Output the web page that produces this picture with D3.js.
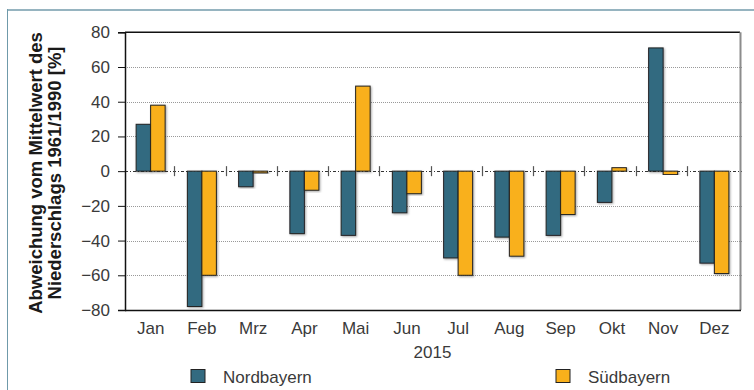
<!DOCTYPE html>
<html>
<head>
<meta charset="utf-8">
<script src="https://cdn.jsdelivr.net/npm/d3@7/dist/d3.min.js"></script>
<style>
  html, body { margin: 0; padding: 0; background: #fff; }
  svg { display: block; }
  text { font-family: "Liberation Sans", Arial, sans-serif; }
</style>
</head>
<body>
<svg id="chart" width="754" height="390"></svg>
<script>
// Monthly precipitation deviation from the 1961/1990 mean, 2015
const months = ["Jan", "Feb", "Mrz", "Apr", "Mai", "Jun", "Jul", "Aug", "Sep", "Okt", "Nov", "Dez"];
const seriesNames = ["Nordbayern", "Südbayern"];
const nordbayern = [27, -78, -9, -36, -37, -24, -50, -38, -37, -18, 71, -53];
const suedbayern = [38, -60, -1, -11, 49, -13, -60, -49, -25, 2, -2, -59];
const yTicks = [-80, -60, -40, -20, 0, 20, 40, 60, 80];
const yearLabel = "2015";
const yTitle = ["Abweichung vom Mittelwert des", "Niederschlags 1961/1990 [%]"];

const colors = ["#336a80", "#f9b01b"];
const rows = months.map((m, i) => ({ month: m, values: [nordbayern[i], suedbayern[i]] }));

const svg = d3.select("#chart");
const plotLeft = 125, plotRight = 740, plotTop = 32.3, plotBottom = 310;

const x = d3.scaleBand().domain(months).range([plotLeft, plotRight]).padding(0);
const xs = d3.scaleBand().domain(seriesNames).range([0, x.bandwidth()]).paddingInner(0).paddingOuter(0.767);
const y = d3.scaleLinear().domain([-80, 80]).range([plotBottom, plotTop]);

const defs = svg.append("defs");
const shadow = defs.append("filter").attr("id", "barShadow")
  .attr("x", "-30%").attr("y", "-10%").attr("width", "160%").attr("height", "120%");
shadow.append("feDropShadow").attr("dx", 1).attr("dy", 1).attr("stdDeviation", 1)
  .attr("flood-color", "#000").attr("flood-opacity", 0.35);

// outer frame (top and left edges)
svg.append("line").attr("x1", 7).attr("x2", 754).attr("y1", 10).attr("y2", 10)
  .attr("stroke", "#96b4c0").attr("stroke-width", 2);
svg.append("line").attr("x1", 7.5).attr("x2", 7.5).attr("y1", 9).attr("y2", 390)
  .attr("stroke", "#6f9aaa").attr("stroke-width", 1);

// gridlines
svg.append("g").selectAll("line")
  .data(yTicks.filter(t => t !== 0 && Math.abs(t) !== 80))
  .join("line")
  .attr("x1", plotLeft).attr("x2", plotRight + 2)
  .attr("y1", d => Math.round(y(d)) + 0.5).attr("y2", d => Math.round(y(d)) + 0.5)
  .attr("stroke", "#999").attr("stroke-width", 1).attr("stroke-dasharray", "1,1");

// zero line
svg.append("line").attr("x1", plotLeft).attr("x2", plotRight + 2)
  .attr("y1", Math.round(y(0)) + 0.5).attr("y2", Math.round(y(0)) + 0.5)
  .attr("stroke", "#333").attr("stroke-width", 1).attr("stroke-dasharray", "3,2,1,2");

// category separators on the zero line
svg.append("g").selectAll("line")
  .data(months.slice(1))
  .join("line")
  .attr("x1", d => Math.round(x(d)) - 1.5).attr("x2", d => Math.round(x(d)) - 1.5)
  .attr("y1", y(0) - 5).attr("y2", y(0) + 5)
  .attr("stroke", "#555").attr("stroke-width", 1.2);

// bars
const groups = svg.append("g").selectAll("g")
  .data(rows).join("g")
  .attr("transform", d => `translate(${x(d.month)},0)`);
groups.selectAll("rect")
  .data(d => d.values.map((v, i) => ({ v, i })))
  .join("rect")
  .attr("x", d => xs(seriesNames[d.i]))
  .attr("width", xs.bandwidth())
  .attr("y", d => y(Math.max(0, d.v)))
  .attr("height", d => Math.abs(y(d.v) - y(0)))
  .attr("fill", d => colors[d.i])
  .attr("stroke", "#222").attr("stroke-width", 1)
  .attr("filter", "url(#barShadow)");

// plot frame
svg.append("line").attr("x1", plotLeft).attr("x2", plotRight).attr("y1", plotTop).attr("y2", plotTop)
  .attr("stroke", "#111").attr("stroke-width", 1.5);
svg.append("line").attr("x1", plotRight + 0.5).attr("x2", plotRight + 0.5).attr("y1", plotTop).attr("y2", plotBottom)
  .attr("stroke", "#8c8c8c").attr("stroke-width", 2);

// y axis
const yAxis = svg.append("g").attr("transform", `translate(${plotLeft},0)`)
  .call(d3.axisLeft(y).tickValues(yTicks).tickSize(7).tickPadding(8).tickFormat(d3.format("d")));
yAxis.select(".domain").attr("stroke", "#111").attr("stroke-width", 1.5);
yAxis.selectAll(".tick line").attr("stroke", "#111");
yAxis.selectAll(".tick text").attr("font-size", 17).attr("fill", "#3a3a3a")
  .attr("font-family", "'Liberation Sans', Arial, sans-serif");

// x axis (labels only)
const xAxis = svg.append("g").attr("transform", `translate(0,${plotBottom})`)
  .call(d3.axisBottom(x).tickSize(0).tickPadding(12));
xAxis.select(".domain").attr("stroke", "#111").attr("stroke-width", 1.5)
  .attr("d", `M${plotLeft},0.5H${plotRight + 1}`);
xAxis.selectAll(".tick text").attr("font-size", 17).attr("fill", "#3a3a3a")
  .attr("font-family", "'Liberation Sans', Arial, sans-serif");

svg.append("text").attr("x", (plotLeft + plotRight) / 2).attr("y", 358)
  .attr("text-anchor", "middle").attr("font-size", 17).attr("fill", "#3a3a3a")
  .text(yearLabel);

// y axis title
const titleG = svg.append("g").attr("transform", "translate(0,173) rotate(-90)");
titleG.selectAll("text").data(yTitle).join("text")
  .attr("x", 0).attr("y", (d, i) => 41.5 + i * 19.5)
  .attr("text-anchor", "middle").attr("font-size", 18.5).attr("font-weight", "bold")
  .attr("fill", "#1a1a1a").text(d => d);

// legend
const legendX = [191, 556];
const legend = svg.append("g").selectAll("g").data(seriesNames).join("g")
  .attr("transform", (d, i) => `translate(${legendX[i]},369.5)`);
legend.append("rect").attr("width", 14).attr("height", 13)
  .attr("fill", (d, i) => colors[i]).attr("stroke", "#222").attr("stroke-width", 1);
legend.append("text").attr("x", 32).attr("y", 13).attr("font-size", 17).attr("fill", "#3a3a3a")
  .text(d => d);
</script>
</body>
</html>
